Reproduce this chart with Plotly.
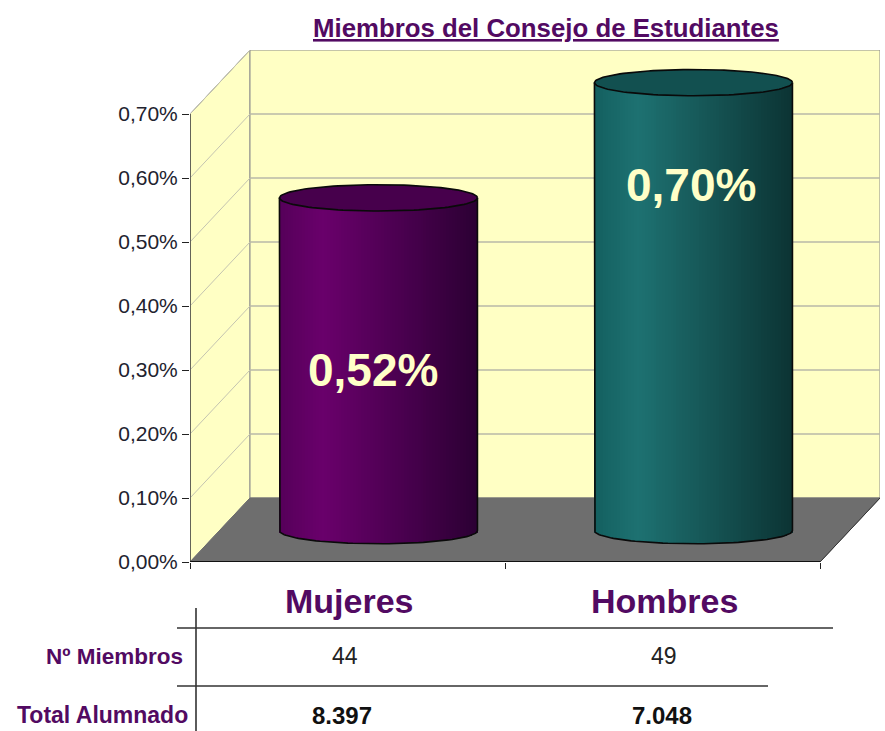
import numpy as np
import plotly.graph_objects as go

categories = ["Mujeres", "Hombres"]
percent_values = [0.52, 0.70]
value_labels = ["0,52%", "0,70%"]
tick_values = [0.0, 0.1, 0.2, 0.3, 0.4, 0.5, 0.6, 0.7]
tick_labels = ["0,00%", "0,10%", "0,20%", "0,30%", "0,40%", "0,50%", "0,60%", "0,70%"]
row_labels = ["Nº Miembros", "Total Alumnado"]
members = ["44", "49"]
students = ["8.397", "7.048"]
title = "Miembros del Consejo de Estudiantes"

W, H = 885, 731
L, R, T, B = 190, 5, 50, 169
PW, PH = W - L - R, H - T - B
SANS = "'Liberation Sans',Arial,sans-serif"
PURPLE = "#520a62"
DX = 60 / 315     # depth offset in x units
DY = 0.1          # depth offset in y units
XMIN, XMAX = -0.5, 1.5
HALF = 99 / 315
RY = 0.0205
BASE = 0.049


def px(x):
    return (x - L) / PW


def py(y):
    return 1 - (y - T) / PH


def mix(c1, c2, t):
    return tuple(a + (b - a) * t for a, b in zip(c1, c2))


def ramp(left, peak, right, t):
    c = mix(left, peak, t / 0.22) if t < 0.22 else mix(peak, right, (t - 0.22) / 0.78)
    return "rgb(%d,%d,%d)" % c


styles = [
    dict(left=(0x56, 0x00, 0x5a), peak=(0x6a, 0x00, 0x6c), right=(0x2c, 0x00, 0x34), top="#47004c"),
    dict(left=(0x14, 0x60, 0x60), peak=(0x1e, 0x72, 0x72), right=(0x0c, 0x34, 0x34), top="#125050"),
]

fig = go.Figure()
shapes = []


def poly(pts, fill, line="#8c8c8c", width=1):
    d = "M" + "L".join(f"{x},{y}" for x, y in pts) + "Z"
    shapes.append(dict(type="path", path=d, xref="x", yref="y", fillcolor=fill,
                       line=dict(color=line, width=width), layer="below"))


top = max(tick_values)
poly([(XMIN, 0), (XMIN + DX, DY), (XMIN + DX, top + DY), (XMIN, top)], "#ffffc4")
poly([(XMIN + DX, DY), (XMAX + DX, DY), (XMAX + DX, top + DY), (XMIN + DX, top + DY)], "#ffffc4")
poly([(XMIN, 0), (XMAX, 0), (XMAX + DX, DY), (XMIN + DX, DY)], "#6e6e6e", "#6e6e6e")
for v in tick_values[1:]:
    shapes.append(dict(type="line", xref="x", yref="y", x0=XMIN, y0=v, x1=XMIN + DX, y1=v + DY,
                       line=dict(color="#c4c4b0", width=1), layer="below"))
    if v < top:
        shapes.append(dict(type="line", xref="x", yref="y", x0=XMIN + DX, y0=v + DY, x1=XMAX + DX, y1=v + DY,
                           line=dict(color="#b8b8a8", width=1.3), layer="below"))
# axis lines
shapes.append(dict(type="line", xref="x", yref="y", x0=XMIN, y0=0, x1=XMAX, y1=0, line=dict(color="#111", width=2)))
shapes.append(dict(type="line", xref="x", yref="y", x0=XMIN, y0=0, x1=XMIN, y1=top, line=dict(color="#222", width=1.2)))
shapes.append(dict(type="line", xref="x", yref="y", x0=XMAX, y0=0, x1=XMAX + DX, y1=DY, line=dict(color="#333", width=1)))

# Cylinders
N = 70
for i, (cat, val) in enumerate(zip(categories, percent_values)):
    cx = i + DX / 2 + 0.003
    edges = np.linspace(-1, 1, N + 1)
    mids = (edges[:-1] + edges[1:]) / 2
    xs = cx + mids * HALF
    bow = RY * np.sqrt(1 - mids ** 2)
    s = styles[i]
    fig.add_trace(go.Bar(
        x=xs, y=val + bow, base=BASE - bow, width=2 * HALF / N * 1.15,
        marker=dict(color=[ramp(s["left"], s["peak"], s["right"], (m + 1) / 2) for m in mids], line=dict(width=0)),
        showlegend=False, hoverinfo="skip"))
    th = np.linspace(0, 2 * np.pi, 121)
    fig.add_trace(go.Scatter(
        x=cx + HALF * np.cos(th), y=BASE + val + RY * np.sin(th), mode="lines", fill="toself",
        fillcolor=s["top"], line=dict(color="#0a0a0a", width=1.6), showlegend=False, hoverinfo="skip"))
    th2 = np.linspace(np.pi, 2 * np.pi, 61)
    ox = np.concatenate([[cx - HALF], cx + HALF * np.cos(th2), [cx + HALF]])
    oy = np.concatenate([[BASE + val], BASE + RY * np.sin(th2), [BASE + val]])
    fig.add_trace(go.Scatter(x=ox, y=oy, mode="lines", line=dict(color="#0a0a0a", width=1.6),
                             showlegend=False, hoverinfo="skip"))

ann = []
label_pos = [0.30, 0.589]
label_shift = [0, 3]
member_shift = [-3, 1]
student_shift = [-6, -1]
for i, lab in enumerate(value_labels):
    ann.append(dict(x=i + DX / 2 - 0.013, y=label_pos[i], xref="x", yref="y", xshift=label_shift[i],
                    text=f"<b>{lab}</b>", showarrow=False,
                    font=dict(family=SANS, size=46, color="#ffffc8")))


def text_px(x, y, text, size, color, anchor="center", bold=False):
    ann.append(dict(x=px(x), y=py(y), xref="paper", yref="paper", text=f"<b>{text}</b>" if bold else text,
                    showarrow=False, xanchor=anchor, yanchor="middle",
                    font=dict(family=SANS, size=size, color=color)))


text_px(546, 28, f"<u>{title}</u>", 25.8, PURPLE, bold=True)
for i, c in enumerate(categories):
    ann.append(dict(x=i, y=py(601), xref="x", yref="paper", xshift=1.5, text=f"<b>{c}</b>", showarrow=False,
                    yanchor="middle", font=dict(family=SANS, size=34, color=PURPLE)))
    ann.append(dict(x=i, y=py(656), xref="x", yref="paper", xshift=member_shift[i], text=members[i], showarrow=False,
                    yanchor="middle", font=dict(family=SANS, size=23, color="#222")))
    ann.append(dict(x=i, y=py(715), xref="x", yref="paper", xshift=student_shift[i], text=f"<b>{students[i]}</b>",
                    showarrow=False, yanchor="middle", font=dict(family=SANS, size=24, color="#111")))
text_px(185, 656, row_labels[0], 22.5, PURPLE, "right", True)
text_px(190, 715, row_labels[1], 23, PURPLE, "right", True)

for x0, y0, x1, y1 in [(196, 608, 196, 731), (177, 628, 833, 628), (177, 686, 768, 686)]:
    shapes.append(dict(type="line", xref="paper", yref="paper", x0=px(x0), y0=py(y0), x1=px(x1), y1=py(y1),
                       line=dict(color="#333", width=1.6)))

fig.update_layout(
    width=W, height=H, autosize=False,
    margin=dict(l=L, r=R, t=T, b=B),
    paper_bgcolor="white", plot_bgcolor="white",
    barmode="overlay", bargap=0, showlegend=False,
    shapes=shapes, annotations=ann,
    xaxis=dict(range=[XMIN, XMAX + DX], tickmode="array", tickvals=[-0.5, 0.5, 1.5], ticktext=["", "", ""],
               ticks="outside", ticklen=6, tickcolor="#222", showgrid=False, zeroline=False, showline=False,
               fixedrange=True),
    yaxis=dict(range=[0, top + DY], tickmode="array", tickvals=tick_values, ticktext=tick_labels,
               ticks="outside", ticklen=7, tickcolor="#222", showgrid=False, zeroline=False, showline=False,
               tickfont=dict(family=SANS, size=21, color="#22222e"), fixedrange=True),
)
fig.write_html("out.html", config={"displayModeBar": False},
               post_script="document.documentElement.style.margin='0';document.body.style.margin='0';document.body.style.overflow='hidden';")
